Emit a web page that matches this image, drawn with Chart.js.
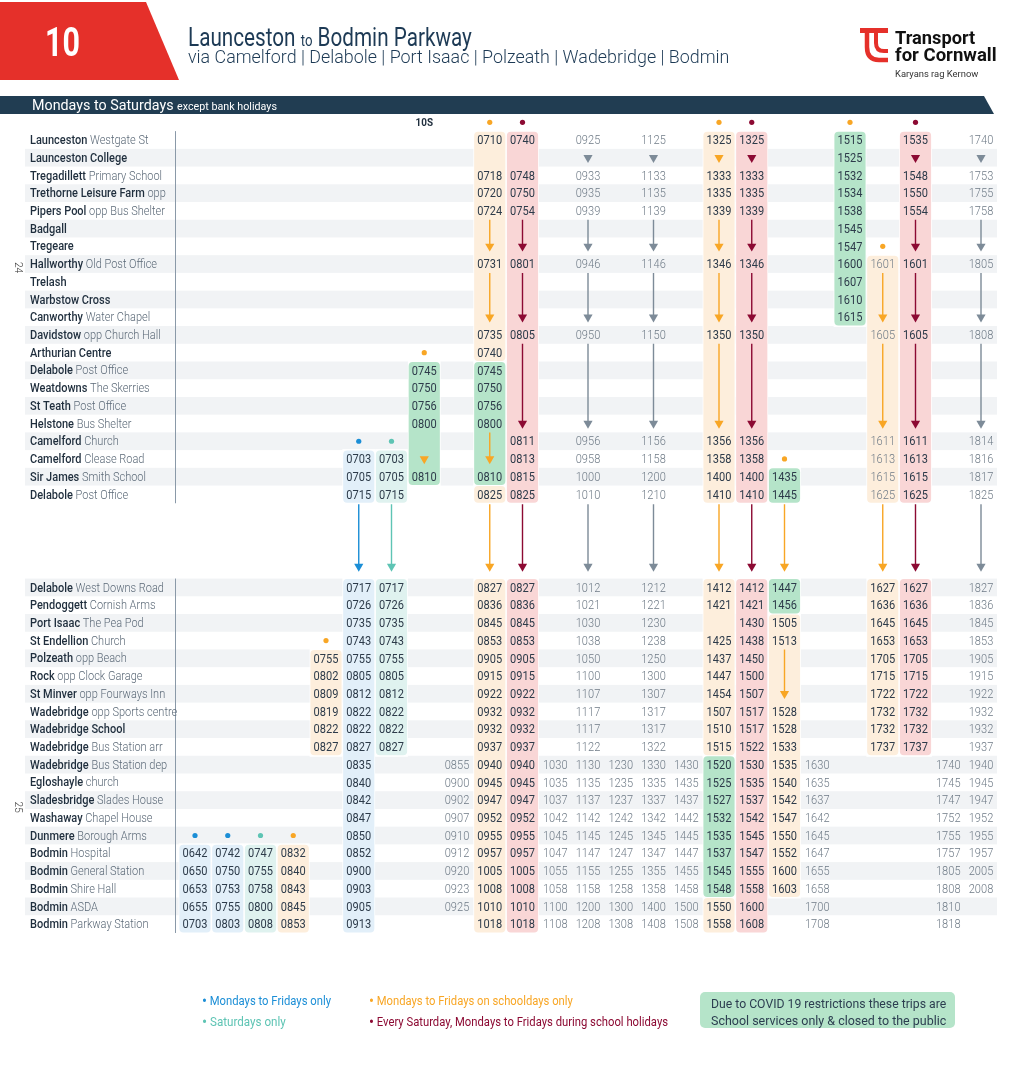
<!DOCTYPE html>
<html>
<head>
<meta charset="utf-8">
<script src="https://cdn.jsdelivr.net/npm/chart.js@4.4.0/dist/chart.umd.min.js"></script>
<style>
html, body { margin: 0; padding: 0; background: #fff; }
body { width: 1020px; height: 1081px; position: relative; overflow: hidden; font-family: Roboto, sans-serif; }
#table { position: absolute; left: 0; top: 0; }
.t { position: absolute; white-space: nowrap; line-height: 1; transform-origin: 0 50%; display: inline-block; }
.t b { font-weight: 400; font-size: 17px; vertical-align: -1px; }
.note { position: absolute; left: 700px; top: 992px; width: 255px; height: 36px; background: #b5e4c9; border-radius: 5px; }
</style>
</head>
<body>
<canvas id="table" width="1020" height="1081"></canvas>

<svg style="position:absolute;left:0;top:0" width="1020" height="120">
  <polygon points="0,2 146,2 179,80 0,80" fill="#e5302a"/>
  <polygon points="0,96 984,96 994,114 0,114" fill="#213d52"/>
  <g fill="none" stroke="#e5302a" stroke-linecap="butt">
    <path d="M860 30.5 H888" stroke-width="5"/>
    <path d="M867 31 V47 Q867 60 879 60 H888" stroke-width="4.5"/>
    <path d="M876 31 V43 Q876 51 884 51 H888" stroke-width="4"/>
  </g>
</svg>

<div class="t" data-w="35" style="left:45px;top:23px;font-size:40px;font-weight:700;color:#fff">10</div>
<div class="t" data-w="284" style="left:188px;top:25px;font-size:25px;color:#1d3a55">Launceston <span style="font-size:16px">to</span> Bodmin Parkway</div>
<div class="t" data-w="541" style="left:188px;top:47px;font-size:19px;font-weight:300;color:#1d3a55">via Camelford | Delabole | Port Isaac | Polzeath | Wadebridge | Bodmin</div>
<div class="t" data-w="80" style="left:895px;top:29px;font-size:18px;font-weight:700;color:#111">Transport</div>
<div class="t" data-w="102" style="left:895px;top:46px;font-size:18px;font-weight:700;color:#111">for Cornwall</div>
<div class="t" data-w="83" style="left:895px;top:69px;font-size:9.5px;color:#333">Karyans rag Kernow</div>
<div class="t" data-w="245" style="left:32px;top:98px;font-size:14px;color:#fff">Mondays to Saturdays <span style="font-size:10.5px">except bank holidays</span></div>

<div class="t" data-w="129" style="left:202px;top:992px;font-size:13px;color:#1b8ed6"><b>•</b> Mondays to Fridays only</div>
<div class="t" data-w="84" style="left:202px;top:1013px;font-size:13px;color:#5ec4b4"><b>•</b> Saturdays only</div>
<div class="t" data-w="204" style="left:369px;top:992px;font-size:13px;color:#f8a625"><b>•</b> Mondays to Fridays on schooldays only</div>
<div class="t" data-w="299" style="left:369px;top:1013px;font-size:13px;color:#8c0a33"><b>•</b> Every Saturday, Mondays to Fridays during school holidays</div>
<div class="note"></div>
<div class="t" data-w="235" style="left:711px;top:997px;font-size:13px;color:#2c3e50">Due to COVID 19 restrictions these trips are</div>
<div class="t" data-w="235" style="left:711px;top:1014px;font-size:13px;color:#2c3e50">School services only &amp; closed to the public</div>

<script>
// stop names: [bold part, light part]
const stopsTop = [
  ['Launceston', ' Westgate St'],
  ['Launceston College', ''],
  ['Tregadillett', ' Primary School'],
  ['Trethorne Leisure Farm', ' opp'],
  ['Pipers Pool', ' opp Bus Shelter'],
  ['Badgall', ''],
  ['Tregeare', ''],
  ['Hallworthy', ' Old Post Office'],
  ['Trelash', ''],
  ['Warbstow Cross', ''],
  ['Canworthy', ' Water Chapel'],
  ['Davidstow', ' opp Church Hall'],
  ['Arthurian Centre', ''],
  ['Delabole', ' Post Office'],
  ['Weatdowns', ' The Skerries'],
  ['St Teath', ' Post Office'],
  ['Helstone', ' Bus Shelter'],
  ['Camelford', ' Church'],
  ['Camelford', ' Clease Road'],
  ['Sir James', ' Smith School'],
  ['Delabole', ' Post Office']
];
const stopsBottom = [
  ['Delabole', ' West Downs Road'],
  ['Pendoggett', ' Cornish Arms'],
  ['Port Isaac', ' The Pea Pod'],
  ['St Endellion', ' Church'],
  ['Polzeath', ' opp Beach'],
  ['Rock', ' opp Clock Garage'],
  ['St Minver', ' opp Fourways Inn'],
  ['Wadebridge', ' opp Sports centre'],
  ['Wadebridge School', ''],
  ['Wadebridge', ' Bus Station arr'],
  ['Wadebridge', ' Bus Station dep'],
  ['Egloshayle', ' church'],
  ['Sladesbridge', ' Slades House'],
  ['Washaway', ' Chapel House'],
  ['Dunmere', ' Borough Arms'],
  ['Bodmin', ' Hospital'],
  ['Bodmin', ' General Station'],
  ['Bodmin', ' Shire Hall'],
  ['Bodmin', ' ASDA'],
  ['Bodmin', ' Parkway Station']
];

// trips: [column, first row, cells]  ('' = no stop, 'v' = runs through)
const tripsTop = [
  [5, 18, ['0703', '0705', '0715']],
  [6, 18, ['0703', '0705', '0715']],
  [7, 13, ['0745', '0750', '0756', '0800', '', 'v', '0810']],
  [9, 0, ['0710', '', '0718', '0720', '0724', 'v', 'v', '0731', 'v', 'v', 'v', '0735', '0740', '0745', '0750', '0756', '0800', 'v', 'v', '0810', '0825']],
  [10, 0, ['0740', '', '0748', '0750', '0754', 'v', 'v', '0801', 'v', 'v', 'v', '0805', 'v', 'v', 'v', 'v', 'v', '0811', '0813', '0815', '0825']],
  [12, 0, ['0925', 'v', '0933', '0935', '0939', 'v', 'v', '0946', 'v', 'v', 'v', '0950', 'v', 'v', 'v', 'v', 'v', '0956', '0958', '1000', '1010']],
  [14, 0, ['1125', 'v', '1133', '1135', '1139', 'v', 'v', '1146', 'v', 'v', 'v', '1150', 'v', 'v', 'v', 'v', 'v', '1156', '1158', '1200', '1210']],
  [16, 0, ['1325', 'v', '1333', '1335', '1339', 'v', 'v', '1346', 'v', 'v', 'v', '1350', 'v', 'v', 'v', 'v', 'v', '1356', '1358', '1400', '1410']],
  [17, 0, ['1325', 'v', '1333', '1335', '1339', 'v', 'v', '1346', 'v', 'v', 'v', '1350', 'v', 'v', 'v', 'v', 'v', '1356', '1358', '1400', '1410']],
  [18, 19, ['1435', '1445']],
  [20, 0, ['1515', '1525', '1532', '1534', '1538', '1545', '1547', '1600', '1607', '1610', '1615']],
  [21, 7, ['1601', 'v', 'v', 'v', '1605', 'v', 'v', 'v', 'v', 'v', '1611', '1613', '1615', '1625']],
  [22, 0, ['1535', 'v', '1548', '1550', '1554', 'v', 'v', '1601', 'v', 'v', 'v', '1605', 'v', 'v', 'v', 'v', 'v', '1611', '1613', '1615', '1625']],
  [24, 0, ['1740', 'v', '1753', '1755', '1758', 'v', 'v', '1805', 'v', 'v', 'v', '1808', 'v', 'v', 'v', 'v', 'v', '1814', '1816', '1817', '1825']]
];
const tripsBottom = [
  [0, 15, ['0642', '0650', '0653', '0655', '0703']],
  [1, 15, ['0742', '0750', '0753', '0755', '0803']],
  [2, 15, ['0747', '0755', '0758', '0800', '0808']],
  [3, 15, ['0832', '0840', '0843', '0845', '0853']],
  [4, 4, ['0755', '0802', '0809', '0819', '0822', '0827']],
  [5, 0, ['0717', '0726', '0735', '0743', '0755', '0805', '0812', '0822', '0822', '0827', '0835', '0840', '0842', '0847', '0850', '0852', '0900', '0903', '0905', '0913']],
  [6, 0, ['0717', '0726', '0735', '0743', '0755', '0805', '0812', '0822', '0822', '0827']],
  [8, 10, ['0855', '0900', '0902', '0907', '0910', '0912', '0920', '0923', '0925']],
  [9, 0, ['0827', '0836', '0845', '0853', '0905', '0915', '0922', '0932', '0932', '0937', '0940', '0945', '0947', '0952', '0955', '0957', '1005', '1008', '1010', '1018']],
  [10, 0, ['0827', '0836', '0845', '0853', '0905', '0915', '0922', '0932', '0932', '0937', '0940', '0945', '0947', '0952', '0955', '0957', '1005', '1008', '1010', '1018']],
  [11, 10, ['1030', '1035', '1037', '1042', '1045', '1047', '1055', '1058', '1100', '1108']],
  [12, 0, ['1012', '1021', '1030', '1038', '1050', '1100', '1107', '1117', '1117', '1122', '1130', '1135', '1137', '1142', '1145', '1147', '1155', '1158', '1200', '1208']],
  [13, 10, ['1230', '1235', '1237', '1242', '1245', '1247', '1255', '1258', '1300', '1308']],
  [14, 0, ['1212', '1221', '1230', '1238', '1250', '1300', '1307', '1317', '1317', '1322', '1330', '1335', '1337', '1342', '1345', '1347', '1355', '1358', '1400', '1408']],
  [15, 10, ['1430', '1435', '1437', '1442', '1445', '1447', '1455', '1458', '1500', '1508']],
  [16, 0, ['1412', '1421', '', '1425', '1437', '1447', '1454', '1507', '1510', '1515', '1520', '1525', '1527', '1532', '1535', '1537', '1545', '1548', '1550', '1558']],
  [17, 0, ['1412', '1421', '1430', '1438', '1450', '1500', '1507', '1517', '1517', '1522', '1530', '1535', '1537', '1542', '1545', '1547', '1555', '1558', '1600', '1608']],
  [18, 0, ['1447', '1456', '1505', '1513', 'v', 'v', 'v', '1528', '1528', '1533', '1535', '1540', '1542', '1547', '1550', '1552', '1600', '1603']],
  [19, 10, ['1630', '1635', '1637', '1642', '1645', '1647', '1655', '1658', '1700', '1708']],
  [21, 0, ['1627', '1636', '1645', '1653', '1705', '1715', '1722', '1732', '1732', '1737']],
  [22, 0, ['1627', '1636', '1645', '1653', '1705', '1715', '1722', '1732', '1732', '1737']],
  [23, 10, ['1740', '1745', '1747', '1752', '1755', '1757', '1805', '1808', '1810', '1818']],
  [24, 0, ['1827', '1836', '1845', '1853', '1905', '1915', '1922', '1932', '1932', '1937', '1940', '1945', '1947', '1952', '1955', '1957', '2005', '2008']]
];

// which days a run of cells operates: [section, column, from row, to row, days]
// mf = Mon-Fri only, sat = Saturdays only, school = schooldays, hol = Sat + school holidays, covid = school service only
const servicePeriods = [
  ['top', 5, 18, 20, 'mf'], ['top', 6, 18, 20, 'sat'], ['top', 7, 13, 19, 'covid'],
  ['top', 9, 0, 12, 'school'], ['top', 9, 13, 19, 'covid'], ['top', 9, 20, 20, 'school'],
  ['top', 10, 0, 20, 'hol'], ['top', 16, 0, 20, 'school'], ['top', 17, 0, 20, 'hol'],
  ['top', 18, 19, 20, 'covid'], ['top', 20, 0, 10, 'covid'], ['top', 21, 7, 20, 'school'],
  ['top', 22, 0, 20, 'hol'],
  ['bottom', 0, 15, 19, 'mf'], ['bottom', 1, 15, 19, 'mf'], ['bottom', 2, 15, 19, 'sat'],
  ['bottom', 3, 15, 19, 'school'], ['bottom', 4, 4, 9, 'school'], ['bottom', 5, 0, 19, 'mf'],
  ['bottom', 6, 0, 9, 'sat'], ['bottom', 9, 0, 19, 'school'], ['bottom', 10, 0, 19, 'hol'],
  ['bottom', 16, 0, 9, 'school'], ['bottom', 16, 10, 17, 'covid'], ['bottom', 16, 18, 19, 'school'],
  ['bottom', 17, 0, 19, 'hol'], ['bottom', 18, 0, 1, 'covid'], ['bottom', 18, 2, 17, 'school'],
  ['bottom', 21, 0, 9, 'school'], ['bottom', 22, 0, 9, 'hol']
];

// day markers: [section, column, row, days]  (row -1 = above first stop)
const dayMarkers = [
  ['top', 9, -1, 'school'], ['top', 10, -1, 'hol'], ['top', 16, -1, 'school'], ['top', 17, -1, 'hol'],
  ['top', 20, -1, 'school'], ['top', 22, -1, 'hol'], ['top', 21, 6, 'school'], ['top', 7, 12, 'school'],
  ['top', 5, 17, 'mf'], ['top', 6, 17, 'sat'], ['top', 18, 18, 'school'],
  ['bottom', 4, 3, 'school'], ['bottom', 0, 14, 'mf'], ['bottom', 1, 14, 'mf'],
  ['bottom', 2, 14, 'sat'], ['bottom', 3, 14, 'school']
];

// trips continuing from the first block into the second: [column, days]
const throughTrips = [
  [5, 'mf'], [6, 'sat'], [9, 'school'], [10, 'hol'], [12, null], [14, null],
  [16, 'school'], [17, 'hol'], [18, 'school'], [21, 'school'], [22, 'hol'], [24, null]
];

const routeCodes = [['top', 7, -1, '10S']];
const pageNumbers = [['top', 7.2, '24'], ['bottom', 12.4, '25']];

// ---- layout ----
const COL_W = 32.75, ROW_H = 17.72;
const X0 = 195, Y0 = 140;
const X_MIN = -X0 / COL_W, X_MAX = X_MIN + 1020 / COL_W;
const Y_MIN = -Y0 / ROW_H, Y_MAX = Y_MIN + 1081 / ROW_H;
const BOTTOM_OFFSET = 25.25;
const NAME_X = X_MIN + 30 / COL_W, PAGE_X = X_MIN + 17 / COL_W;
const DIVIDER_X = X_MIN + 175 / COL_W;
const STRIPE_L = X_MIN + 25 / COL_W, STRIPE_R = X_MIN + 997 / COL_W;
const LINK_FROM = 20.55, LINK_TO = 24.07;
const TEXT_DY = 1;

const fills = { mf: '#e2eff9', sat: '#dff2ef', school: '#fdeedc', hol: '#f9d6d6', covid: '#b5e4c9' };
const marks = { mf: '#1b8ed6', sat: '#5ec4b4', school: '#f8a625', hol: '#8c0a33', covid: '#f8a625' };
const GREY_ARROW = '#7d8b98';
const STRIPE = '#f1f3f5';
// the 16:01 schooldays journey is printed in the light grey type
const lightTextColumns = [['top', 21]];

const rowY = (section, r) => section === 'top' ? r : r + BOTTOM_OFFSET;
const periodAt = (section, col, r) =>
  servicePeriods.find(p => p[0] === section && p[1] === col && r >= p[2] && r <= p[3]);

// arrows from runs of 'v'
const shafts = [], heads = [];
[['top', tripsTop], ['bottom', tripsBottom]].forEach(([section, trips]) => {
  trips.forEach(([col, start, cells]) => {
    let i = 0;
    while (i < cells.length) {
      if (cells[i] !== 'v') { i++; continue; }
      let j = i;
      while (cells[j + 1] === 'v') j++;
      const p = periodAt(section, col, start + j);
      const colour = p ? marks[p[4]] : GREY_ARROW;
      if (j > i) shafts.push({ col, from: rowY(section, start + i) - 0.5, to: rowY(section, start + j), colour });
      heads.push({ x: col, y: rowY(section, start + j), colour });
      i = j + 1;
    }
  });
});
throughTrips.forEach(([col, days]) => {
  const colour = days ? marks[days] : GREY_ARROW;
  shafts.push({ col, from: LINK_FROM, to: LINK_TO, colour });
  heads.push({ x: col, y: LINK_TO, colour });
});

const datasets = [
  {
    data: dayMarkers.map(m => ({ x: m[1], y: rowY(m[0], m[2]) })),
    pointRadius: 2.6, pointBorderWidth: 0,
    pointBackgroundColor: dayMarkers.map(m => marks[m[3]]), order: 0
  },
  {
    data: heads.map(h => ({ x: h.x, y: h.y })),
    pointStyle: 'triangle', rotation: 180, pointRadius: 5.3, pointBorderWidth: 0,
    pointBackgroundColor: heads.map(h => h.colour), order: 0
  }
].concat(shafts.map(s => ({
  data: [{ x: s.col, y: s.from }, { x: s.col, y: s.to }],
  showLine: true, pointRadius: 0, borderColor: s.colour, borderWidth: 1.4, order: 2
})));

function squeezedText(ctx, str, x, y, font, colour, align, squeeze) {
  ctx.font = font;
  ctx.fillStyle = colour;
  const w = ctx.measureText(str).width * squeeze;
  const left = align === 'center' ? x - w / 2 : x;
  ctx.save();
  ctx.translate(left, y + TEXT_DY);
  ctx.scale(squeeze, 1);
  ctx.textAlign = 'left';
  ctx.textBaseline = 'middle';
  ctx.fillText(str, 0, 0);
  ctx.restore();
  return w;
}

const timetablePlugin = {
  id: 'timetable',
  beforeDatasetsDraw(chart) {
    const { ctx, scales: { x, y } } = chart;
    const px = v => x.getPixelForValue(v), py = v => y.getPixelForValue(v);
    ctx.save();
    // alternate row shading
    ctx.fillStyle = STRIPE;
    const sl = px(STRIPE_L), sw = px(STRIPE_R) - sl;
    stopsTop.forEach((s, i) => { if (i % 2 === 1) ctx.fillRect(sl, py(i - 0.5), sw, ROW_H); });
    stopsBottom.forEach((s, i) => { if (i % 2 === 0) ctx.fillRect(sl, py(rowY('bottom', i) - 0.5), sw, ROW_H); });
    // service period boxes
    servicePeriods.forEach(([section, col, r0, r1]) => {
      ctx.fillStyle = '#fff';
      ctx.fillRect(px(col - 0.5), py(rowY(section, r0) - 0.5) - 1, COL_W, py(rowY(section, r1) + 0.5) - py(rowY(section, r0) - 0.5) + 2);
    });
    servicePeriods.forEach(([section, col, r0, r1, days]) => {
      const left = px(col) - 15.6, top = py(rowY(section, r0) - 0.5) + 0.5;
      const h = py(rowY(section, r1) + 0.5) - top - 0.5;
      ctx.fillStyle = fills[days];
      ctx.beginPath();
      ctx.roundRect(left, top, 31.2, h, 4);
      ctx.fill();
    });
    // divider between names and times
    ctx.strokeStyle = '#8a99a8';
    ctx.lineWidth = 1;
    ctx.beginPath();
    const dx = Math.round(px(DIVIDER_X)) + 0.5;
    ctx.moveTo(dx, py(-0.5)); ctx.lineTo(dx, py(stopsTop.length - 0.5));
    ctx.moveTo(dx, py(rowY('bottom', -0.5))); ctx.lineTo(dx, py(rowY('bottom', stopsBottom.length - 0.5)));
    ctx.stroke();
    ctx.restore();
  },
  afterDatasetsDraw(chart) {
    const { ctx, scales: { x, y } } = chart;
    const px = v => x.getPixelForValue(v), py = v => y.getPixelForValue(v);
    ctx.save();
    [['top', stopsTop], ['bottom', stopsBottom]].forEach(([section, stops]) => {
      stops.forEach(([bold, rest], i) => {
        const yy = py(rowY(section, i));
        const w = squeezedText(ctx, bold, px(NAME_X), yy, '500 12.5px Roboto', '#1f2e3d', 'left', 0.88);
        if (rest) squeezedText(ctx, rest, px(NAME_X) + w, yy, '300 12.5px Roboto', '#5c6a78', 'left', 0.88);
      });
    });
    [['top', tripsTop], ['bottom', tripsBottom]].forEach(([section, trips]) => {
      trips.forEach(([col, start, cells]) => {
        const light = lightTextColumns.some(l => l[0] === section && l[1] === col);
        cells.forEach((c, k) => {
          if (!c || c === 'v') return;
          const dark = periodAt(section, col, start + k) && !light;
          squeezedText(ctx, c, px(col), py(rowY(section, start + k)),
            dark ? '400 13px Roboto' : '300 13px Roboto',
            dark ? '#2d3b4a' : '#6f7b87', 'center', 0.85);
        });
      });
    });
    routeCodes.forEach(([section, col, r, code]) => {
      squeezedText(ctx, code, px(col), py(rowY(section, r)), '700 11px Roboto', '#1f2e3d', 'center', 0.9);
    });
    pageNumbers.forEach(([section, r, num]) => {
      ctx.save();
      ctx.translate(px(PAGE_X), py(rowY(section, r)));
      ctx.rotate(Math.PI / 2);
      ctx.font = '300 10px Roboto';
      ctx.fillStyle = '#333';
      ctx.textAlign = 'center';
      ctx.textBaseline = 'middle';
      ctx.fillText(num, 0, 0);
      ctx.restore();
    });
    ctx.restore();
  }
};

new Chart(document.getElementById('table'), {
  type: 'scatter',
  data: { datasets },
  options: {
    responsive: false,
    animation: false,
    events: [],
    layout: { padding: 0, autoPadding: false },
    plugins: { legend: { display: false }, tooltip: { enabled: false } },
    scales: {
      x: { type: 'linear', display: false, min: X_MIN, max: X_MAX },
      y: { type: 'linear', display: false, reverse: true, min: Y_MIN, max: Y_MAX }
    }
  },
  plugins: [timetablePlugin]
});

// squeeze header / footer text to the widths in the printed timetable
function fitText() {
  document.querySelectorAll('.t[data-w]').forEach(el => {
    el.style.transform = 'none';
    const k = Number(el.dataset.w) / el.offsetWidth;
    el.style.transform = 'scaleX(' + k + ')';
  });
}
fitText();
document.fonts.ready.then(fitText);
</script>
</body>
</html>
